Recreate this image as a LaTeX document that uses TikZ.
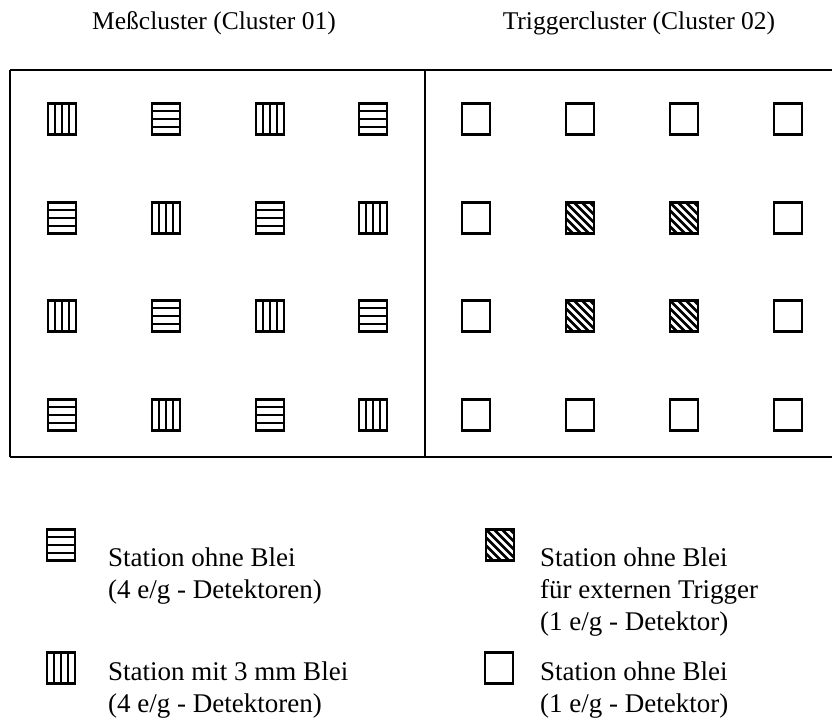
\documentclass[tikz,border=0pt]{standalone}
\usepackage{fontspec}
\setmainfont{Liberation Serif}
\begin{document}
\begin{tikzpicture}[x=1pt,y=-1pt,
  station/.style={draw, line width=2.2pt, minimum width=28pt, minimum height=31pt, inner sep=0pt},
  vstripes/.style={station, path picture={
      \foreach \i in {1,2,3}
        \draw[line width=1.6pt] ([xshift=\i*7pt]path picture bounding box.north west)
          -- ([xshift=\i*7pt]path picture bounding box.south west);}},
  hstripes/.style={station, path picture={
      \foreach \i in {1,2,3}
        \draw[line width=1.6pt] ([yshift=-\i*7.75pt]path picture bounding box.north west)
          -- ([yshift=-\i*7.75pt]path picture bounding box.north east);}},
  hatched/.style={station, path picture={
      \foreach \k in {-32,-24,...,32}
        \draw[line width=2.6pt] ([xshift=\k pt]path picture bounding box.north west)
          -- ++(45pt,-45pt);}},
  empty/.style={station},
  title/.style={font=\fontsize{25.5}{30}\selectfont, inner sep=0pt},
  legend/.style={font=\fontsize{27}{32}\selectfont, inner sep=0pt, anchor=base west}
]
\useasboundingbox (0,0) rectangle (832,727);

% headings
\node[title] (t1) at (214,23) {Meßcluster (Cluster 01)};
\node[title] (t2) at (639,23) {Triggercluster (Cluster 02)};

% frame with the two clusters
\draw[line width=1.6pt] (10,70) -- (840,70);
\draw[line width=1.6pt] (10,457) -- (840,457);
\draw[line width=1.6pt] (10,70) -- (10,457);
\draw[line width=1.2pt] (425,70) -- (425,457);

% measuring cluster: alternating lead / no lead
\foreach \r/\y in {1/119,2/218,3/316,4/415}{
  \foreach \c/\x in {1/62,2/166,3/270,4/373}{
    \pgfmathtruncatemacro{\parity}{mod(\r+\c,2)}
    \ifnum\parity=0
      \node[vstripes] (m-\r-\c) at (\x,\y) {};
    \else
      \node[hstripes] (m-\r-\c) at (\x,\y) {};
    \fi
  }
}

% trigger cluster: inner four stations trigger externally
\foreach \r/\y in {1/119,2/218,3/316,4/415}{
  \foreach \c/\x in {1/476,2/580,3/684,4/788}{
    \node[empty] (t-\r-\c) at (\x,\y) {};
  }
}
\foreach \r/\y in {2/218,3/316}{
  \foreach \c/\x in {2/580,3/684}{
    \node[hatched] (h-\r-\c) at (\x,\y) {};
  }
}

% legend
\node[hstripes] (k1) at (61,545) {};
\node[legend] (k1a) at (108,566) {Station ohne Blei};
\node[legend] (k1b) at (108,598) {(4 e/g - Detektoren)};

\node[vstripes] (k2) at (61,668) {};
\node[legend] (k2a) at (108,680) {Station mit 3 mm Blei};
\node[legend] (k2b) at (108,712) {(4 e/g - Detektoren)};

\node[hatched] (k3) at (500,545) {};
\node[legend] (k3a) at (540,566) {Station ohne Blei};
\node[legend] (k3b) at (540,598) {für externen Trigger};
\node[legend] (k3c) at (540,630) {(1 e/g - Detektor)};

\node[empty] (k4) at (499,668) {};
\node[legend] (k4a) at (540,680) {Station ohne Blei};
\node[legend] (k4b) at (540,712) {(1 e/g - Detektor)};
\end{tikzpicture}
\end{document}
